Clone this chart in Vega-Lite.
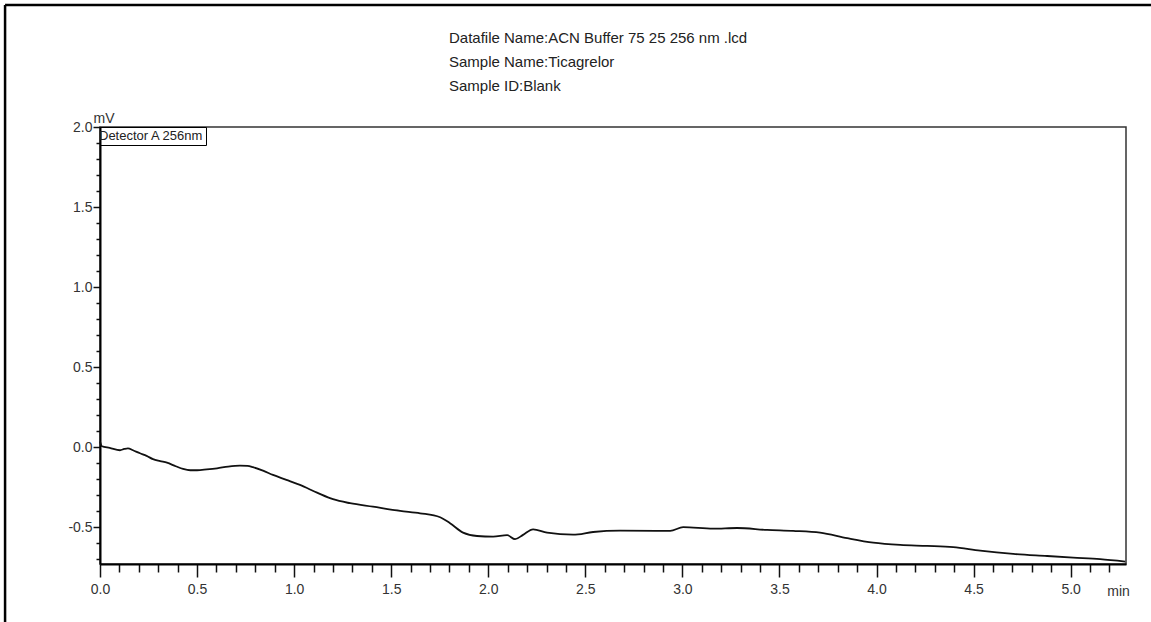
{
  "$schema": "https://vega.github.io/schema/vega-lite/v6.json",
  "width": 1026,
  "height": 437,
  "autosize": {"type": "none"},
  "padding": {"left": 100, "top": 127, "right": 25, "bottom": 58},
  "background": "white",
  "title": {
    "text": ["Datafile Name:ACN Buffer 75 25 256 nm .lcd", "Sample Name:Ticagrelor", "Sample ID:Blank"],
    "anchor": "start",
    "frame": "group",
    "dx": 349,
    "align": "left",
    "fontSize": 15,
    "fontWeight": "normal",
    "lineHeight": 24,
    "color": "#222",
    "offset": -90
  },
  "layer": [
    {
      "data": {
        "values": [
          {"t": 0.000, "mV": 0.035, "detector": "Detector A 256nm"},
          {"t": 0.010, "mV": 0.005, "detector": "Detector A 256nm"},
          {"t": 0.050, "mV": -0.005, "detector": "Detector A 256nm"},
          {"t": 0.103, "mV": -0.020, "detector": "Detector A 256nm"},
          {"t": 0.125, "mV": -0.012, "detector": "Detector A 256nm"},
          {"t": 0.144, "mV": -0.008, "detector": "Detector A 256nm"},
          {"t": 0.170, "mV": -0.020, "detector": "Detector A 256nm"},
          {"t": 0.206, "mV": -0.039, "detector": "Detector A 256nm"},
          {"t": 0.240, "mV": -0.055, "detector": "Detector A 256nm"},
          {"t": 0.273, "mV": -0.076, "detector": "Detector A 256nm"},
          {"t": 0.310, "mV": -0.088, "detector": "Detector A 256nm"},
          {"t": 0.345, "mV": -0.098, "detector": "Detector A 256nm"},
          {"t": 0.390, "mV": -0.120, "detector": "Detector A 256nm"},
          {"t": 0.428, "mV": -0.137, "detector": "Detector A 256nm"},
          {"t": 0.465, "mV": -0.145, "detector": "Detector A 256nm"},
          {"t": 0.500, "mV": -0.145, "detector": "Detector A 256nm"},
          {"t": 0.550, "mV": -0.140, "detector": "Detector A 256nm"},
          {"t": 0.603, "mV": -0.133, "detector": "Detector A 256nm"},
          {"t": 0.660, "mV": -0.122, "detector": "Detector A 256nm"},
          {"t": 0.721, "mV": -0.116, "detector": "Detector A 256nm"},
          {"t": 0.760, "mV": -0.118, "detector": "Detector A 256nm"},
          {"t": 0.788, "mV": -0.126, "detector": "Detector A 256nm"},
          {"t": 0.840, "mV": -0.148, "detector": "Detector A 256nm"},
          {"t": 0.891, "mV": -0.174, "detector": "Detector A 256nm"},
          {"t": 0.960, "mV": -0.205, "detector": "Detector A 256nm"},
          {"t": 1.030, "mV": -0.237, "detector": "Detector A 256nm"},
          {"t": 1.118, "mV": -0.285, "detector": "Detector A 256nm"},
          {"t": 1.200, "mV": -0.326, "detector": "Detector A 256nm"},
          {"t": 1.288, "mV": -0.351, "detector": "Detector A 256nm"},
          {"t": 1.406, "mV": -0.373, "detector": "Detector A 256nm"},
          {"t": 1.546, "mV": -0.399, "detector": "Detector A 256nm"},
          {"t": 1.649, "mV": -0.414, "detector": "Detector A 256nm"},
          {"t": 1.752, "mV": -0.439, "detector": "Detector A 256nm"},
          {"t": 1.803, "mV": -0.476, "detector": "Detector A 256nm"},
          {"t": 1.870, "mV": -0.535, "detector": "Detector A 256nm"},
          {"t": 1.942, "mV": -0.556, "detector": "Detector A 256nm"},
          {"t": 2.025, "mV": -0.560, "detector": "Detector A 256nm"},
          {"t": 2.097, "mV": -0.551, "detector": "Detector A 256nm"},
          {"t": 2.138, "mV": -0.576, "detector": "Detector A 256nm"},
          {"t": 2.179, "mV": -0.549, "detector": "Detector A 256nm"},
          {"t": 2.231, "mV": -0.514, "detector": "Detector A 256nm"},
          {"t": 2.303, "mV": -0.535, "detector": "Detector A 256nm"},
          {"t": 2.437, "mV": -0.548, "detector": "Detector A 256nm"},
          {"t": 2.540, "mV": -0.531, "detector": "Detector A 256nm"},
          {"t": 2.679, "mV": -0.523, "detector": "Detector A 256nm"},
          {"t": 2.937, "mV": -0.524, "detector": "Detector A 256nm"},
          {"t": 3.004, "mV": -0.501, "detector": "Detector A 256nm"},
          {"t": 3.158, "mV": -0.510, "detector": "Detector A 256nm"},
          {"t": 3.282, "mV": -0.506, "detector": "Detector A 256nm"},
          {"t": 3.436, "mV": -0.518, "detector": "Detector A 256nm"},
          {"t": 3.570, "mV": -0.524, "detector": "Detector A 256nm"},
          {"t": 3.709, "mV": -0.535, "detector": "Detector A 256nm"},
          {"t": 3.849, "mV": -0.570, "detector": "Detector A 256nm"},
          {"t": 3.983, "mV": -0.598, "detector": "Detector A 256nm"},
          {"t": 4.122, "mV": -0.612, "detector": "Detector A 256nm"},
          {"t": 4.261, "mV": -0.618, "detector": "Detector A 256nm"},
          {"t": 4.395, "mV": -0.626, "detector": "Detector A 256nm"},
          {"t": 4.534, "mV": -0.648, "detector": "Detector A 256nm"},
          {"t": 4.704, "mV": -0.668, "detector": "Detector A 256nm"},
          {"t": 4.879, "mV": -0.681, "detector": "Detector A 256nm"},
          {"t": 5.013, "mV": -0.691, "detector": "Detector A 256nm"},
          {"t": 5.152, "mV": -0.701, "detector": "Detector A 256nm"},
          {"t": 5.281, "mV": -0.716, "detector": "Detector A 256nm"}
        ]
      },
      "mark": {"type": "line", "interpolate": "monotone", "strokeWidth": 1.8},
      "encoding": {
        "x": {
          "field": "t",
          "type": "quantitative",
          "scale": {"domain": [0, 5.285], "nice": false, "zero": false},
          "axis": {
            "values": [0, 0.1, 0.2, 0.3, 0.4, 0.5, 0.6, 0.7, 0.8, 0.9, 1, 1.1, 1.2, 1.3, 1.4, 1.5, 1.6, 1.7, 1.8, 1.9, 2, 2.1, 2.2, 2.3, 2.4, 2.5, 2.6, 2.7, 2.8, 2.9, 3, 3.1, 3.2, 3.3, 3.4, 3.5, 3.6, 3.7, 3.8, 3.9, 4, 4.1, 4.2, 4.3, 4.4, 4.5, 4.6, 4.7, 4.8, 4.9, 5, 5.1, 5.2],
            "tickCount": 200,
            "title": "min",
            "titleX": 1018,
            "titleY": 31,
            "titleAlign": "center",
            "titleBaseline": "alphabetic",
            "titleFontWeight": "normal",
            "titleFontSize": 14,
            "titleColor": "#333",
            "labelExpr": "abs(datum.value*2 - round(datum.value*2)) < 0.001 ? format(datum.value, '.1f') : ''",
            "labelFontSize": 14,
            "labelColor": "#333",
            "labelPadding": 5,
            "labelFlush": false,
            "labelOverlap": false,
            "tickSize": {"condition": {"test": "abs(datum.value*2 - round(datum.value*2)) < 0.001", "value": 13}, "value": 8},
            "tickColor": "#111",
            "tickWidth": 1.5,
            "domainColor": "#000",
            "domainWidth": 2,
            "grid": false
          }
        },
        "y": {
          "field": "mV",
          "type": "quantitative",
          "scale": {"domain": [-0.731, 2.0], "nice": false, "zero": false},
          "axis": {
            "values": [-0.7, -0.6, -0.5, -0.4, -0.3, -0.2, -0.1, 0, 0.1, 0.2, 0.3, 0.4, 0.5, 0.6, 0.7, 0.8, 0.9, 1, 1.1, 1.2, 1.3, 1.4, 1.5, 1.6, 1.7, 1.8, 1.9, 2],
            "tickCount": 200,
            "title": "mV",
            "titleAngle": 0,
            "titleX": -7,
            "titleY": -5,
            "titleAlign": "left",
            "titleBaseline": "alphabetic",
            "titleFontWeight": "normal",
            "titleFontSize": 14,
            "titleColor": "#333",
            "labelExpr": "abs(datum.value*2 - round(datum.value*2)) < 0.001 ? replace(format(datum.value, '.1f'), '\u2212', '-') : ''",
            "labelFontSize": 14,
            "labelColor": "#333",
            "labelPadding": 1,
            "labelFlush": false,
            "labelOverlap": false,
            "tickSize": {"condition": {"test": "abs(datum.value*2 - round(datum.value*2)) < 0.001", "value": 7}, "value": 4},
            "tickColor": "#111",
            "tickWidth": 1.5,
            "domainColor": "#000",
            "domainWidth": 2,
            "grid": false
          }
        },
        "color": {
          "field": "detector",
          "type": "nominal",
          "scale": {"range": ["#111"]},
          "legend": {
            "title": null,
            "orient": "top-left",
            "offset": 0,
            "padding": 2,
            "strokeColor": "#000",
            "symbolType": "stroke",
            "symbolSize": 0,
            "symbolOpacity": 0,
            "symbolStrokeWidth": 0,
            "labelOffset": -16,
            "labelFontSize": 13,
            "labelColor": "#222",
            "labelLimit": 300
          }
        }
      }
    },
    {
      "data": {"values": [{"edge": "left"}]},
      "mark": {"type": "rule", "color": "#000", "strokeWidth": 2.5},
      "encoding": {
        "x": {"datum": -0.489, "type": "quantitative"},
        "y": {"datum": 2.763, "type": "quantitative"},
        "y2": {"datum": -1.093}
      }
    },
    {
      "data": {"values": [{"edge": "top"}]},
      "mark": {"type": "rule", "color": "#000", "strokeWidth": 2.5},
      "encoding": {
        "y": {"datum": 2.763, "type": "quantitative"},
        "x": {"datum": -0.489, "type": "quantitative"},
        "x2": {"datum": 5.415}
      }
    }
  ],
  "config": {
    "font": "Liberation Sans, Arial, sans-serif",
    "view": {"stroke": "#333", "strokeWidth": 1.5}
  }
}
